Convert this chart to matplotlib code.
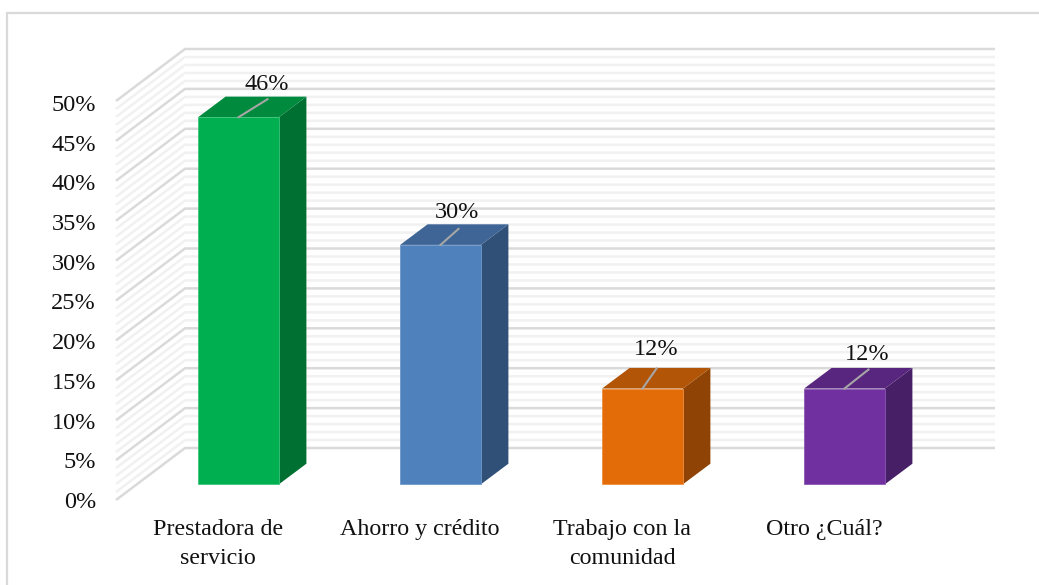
import matplotlib
matplotlib.use("Agg")
import matplotlib.pyplot as plt
from matplotlib.patches import Polygon, Rectangle

categories = ["Prestadora de\nservicio", "Ahorro y crédito", "Trabajo con la\ncomunidad", "Otro ¿Cuál?"]
values = [46, 30, 12, 12]
value_labels = ["46%", "30%", "12%", "12%"]
front_colors = ["#00B050", "#4F81BD", "#E36C09", "#7030A0"]
top_colors = ["#008A3E", "#3E6595", "#B25507", "#58267E"]
side_colors = ["#006F32", "#305078", "#8F4406", "#471F66"]
edge_colors = ["#3FC47C", "#6F97C8", "#EC8F40", "#8A58B2"]
y_ticks = [0, 5, 10, 15, 20, 25, 30, 35, 40, 45, 50]
minor_ticks = [v for v in range(0, 51) if v % 5]
leader_dx = [29, 18, 14, 24]
leader_dy = [18, 16, 20, 19]
label_dx = [28, 17, 14, 23]
label_dy = [33, 32, 39, 34]

W, H = 1039, 585
PX_CAT, PX_PCT, X0, Y0 = 202.0, 7.98, 238.5, 484.3
plt.rcParams["font.family"] = "Liberation Serif"
fig = plt.figure(figsize=(W / 100, H / 100), dpi=100)
ax = fig.add_axes([0, 0, 1, 1])
ax.set_xlim((0 - X0) / PX_CAT, (W - X0) / PX_CAT)
ax.set_ylim((Y0 - H) / PX_PCT, Y0 / PX_PCT)
ax.axis("off")


def dx(p):
    return p / PX_CAT


def dy(p):
    return p / PX_PCT


def px_x(p):
    return (p - X0) / PX_CAT


def px_y(p):
    return (Y0 - p) / PX_PCT


ax.add_patch(Rectangle((px_x(7), px_y(600)), dx(1100), dy(587), fc="white", ec="#D9D9D9", lw=1.6, zorder=0))

bx0, bx1, lx = px_x(185), px_x(995), px_x(116)
by, ly = px_y(448), px_y(500)
for v in minor_ticks:
    ax.plot([lx, bx0, bx1], [ly + v, by + v, by + v], color="#F1F1F1", lw=1.8, zorder=1, solid_joinstyle="miter",
            solid_capstyle="butt")
for v in y_ticks:
    ax.plot([lx, bx0, bx1], [ly + v, by + v, by + v], color="#DADADA", lw=1.8, zorder=2, solid_joinstyle="miter",
            solid_capstyle="butt")
    ax.text(px_x(96), px_y(502.5) + v * 7.94 / PX_PCT, f"{v}%", ha="right", va="center", fontsize=17.5,
            color="#111111", zorder=5)

half, ox, oy = 0.2, dx(27.5), dy(20.6)
for i, v in enumerate(values):
    l, r = i - half, i + half
    ax.add_patch(Polygon([(r, 0), (r + ox, oy), (r + ox, v + oy), (r, v)], fc=side_colors[i], ec="none", zorder=3))
    ax.add_patch(Polygon([(l, v), (l + ox, v + oy), (r + ox, v + oy), (r, v)], fc=top_colors[i], ec="none", zorder=3))
    ax.bar(i, v, width=2 * half, color=front_colors[i], edgecolor=edge_colors[i], linewidth=0.6, zorder=4)
    ax.plot([i, i + dx(leader_dx[i])], [v, v + dy(leader_dy[i])], color="#A6A6A6", lw=1.5, zorder=5)
    ax.text(i + dx(label_dx[i]), v + dy(label_dy[i]), value_labels[i], ha="center", va="center", fontsize=17.5,
            color="#111111", zorder=6)
    ax.text(i - dx(20.5), px_y(519), categories[i], ha="center", va="top", fontsize=17.3, color="#111111",
            linespacing=1.5, zorder=6)

fig.savefig("out.png", dpi=100)
